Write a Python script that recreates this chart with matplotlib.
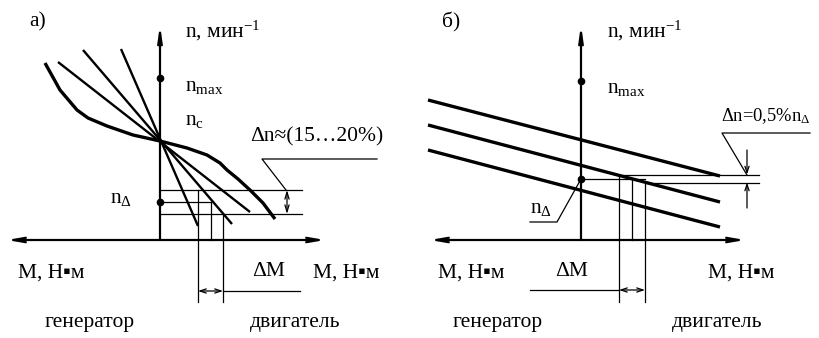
import matplotlib
matplotlib.use("Agg")
import matplotlib.pyplot as plt
import numpy as np

plt.rcParams['font.family'] = ['Liberation Serif', 'DejaVu Sans']
plt.rcParams['mathtext.fontset'] = 'custom'
plt.rcParams['mathtext.rm'] = 'Liberation Serif'
plt.rcParams['mathtext.it'] = 'Liberation Serif:italic'

# =============================================================================
# Data (panel coordinates: M to the right, n upward, origin at axis crossing)
# =============================================================================

# --- panel a) ---
a_lines = [  # straight characteristics: (M0, n0, M1, n1)
    (-39, 191, 38, 14),
    (-77, 190, 72, 16),
    (-102, 178, 90, 28),
]
a_curve_M = [-115, -100, -83, -72, -53, -27, 0, 27, 47, 60, 67, 78, 90, 103, 115]
a_curve_n = [177, 150, 130, 122, 114, 105, 99, 92, 85, 77, 70, 61, 50, 37, 21]
a_n_max   = 162
a_levels  = [50, 38, 26]          # n levels of the horizontal guide lines
a_lvl_end = [142, 51, 142]        # where each guide line ends
a_dM      = [38, 51, 63]          # torque marks
a_dM_low  = [-62, 0, -62]         # how far down each mark runs
a_dn_M    = 127

# --- panel b) ---
b_lines = [
    (-153, 140, 139, 64),
    (-153, 115, 139, 38),
    (-153, 90, 139, 13),
]
b_n_max   = 159
b_n_delta = 61
b_levels  = [65.5, 61, 57.5]
b_lvl_beg = [39, 0, 64]
b_lvl_end = [178, 64, 178]
b_dM      = [38, 51, 64]
b_dM_low  = [-62, 0, -62]
b_dn_M    = 166

THICK = 2.4
THIN = 0.9
AX_LW = 1.6
FS = 15.5

fig = plt.figure(figsize=(8.19, 3.38), dpi=100)
ax_a = fig.add_axes([0, 0, 410 / 819, 1])
ax_b = fig.add_axes([410 / 819, 0, 409 / 819, 1])
ax_a.set_xlim(-160, 250)
ax_b.set_xlim(-171, 238)
for ax in (ax_a, ax_b):
    ax.set_ylim(-98, 240)
    ax.axis('off')


def arrow(ax, p0, p1, style='->', lw=THIN, hl=0.5, hw=0.2):
    ax.annotate('', xy=p1, xytext=p0,
                arrowprops=dict(arrowstyle=f'{style},head_length={hl},head_width={hw}',
                                lw=lw, color='black', shrinkA=0, shrinkB=0))


def axes_cross(ax, left, right):
    arrow(ax, (left, 0), (right, 0), style='<->', lw=AX_LW, hl=0.9, hw=0.16)
    arrow(ax, (0, 0), (0, 215), style='->', lw=AX_LW, hl=0.9, hw=0.13)


# =============================================================================
# Panel a)
# =============================================================================
ax = ax_a
axes_cross(ax, -153, 165)
for m0, n0, m1, n1 in a_lines:
    ax.plot([m0, m1], [n0, n1], color='black', lw=1.7, solid_capstyle='butt')
ax.plot(a_curve_M, a_curve_n, color='black', lw=THICK, solid_capstyle='butt')
ax.plot(0, a_n_max, 'ko', ms=4.5)
ax.plot(0, a_levels[1], 'ko', ms=4.5)
for lv, end in zip(a_levels, a_lvl_end):
    ax.plot([0, end], [lv, lv], color='black', lw=THIN)
for m, top, low in zip(a_dM, a_levels, a_dM_low):
    ax.plot([m, m], [top, low], color='black', lw=THIN)
arrow(ax, (a_dM[0], -51), (a_dM[2], -51), style='<->', hl=0.45, hw=0.15)
ax.plot([a_dM[2], 140], [-51, -51], color='black', lw=THIN)
arrow(ax, (a_dn_M, a_levels[0]), (a_dn_M, a_levels[2]), style='<->', hl=0.5, hw=0.15)
ax.plot([217, 102, 126], [81, 81, 50], color='black', lw=THIN)

ax.text(-131, 218, 'а)', fontsize=FS, va='center')
ax.text(25, 209, r'n, мин$^{\mathrm{-1}}$', fontsize=FS, va='center')
ax.text(25, 153, r'n$_{\mathrm{max}}$', fontsize=FS, va='center')
ax.text(25, 119, r'n$_{\mathrm{c}}$', fontsize=FS, va='center')
ax.text(-50, 41, r'n$_{\Delta}$', fontsize=FS, va='center')
ax.text(90, 103, 'Δn≈(15…20%)', fontsize=FS, va='center')
ax.text(-142, -33, 'M, Н▪м', fontsize=FS, va='center')
ax.text(92, -32, 'ΔM', fontsize=FS, va='center')
ax.text(153, -33, 'M, Н▪м', fontsize=FS, va='center')
ax.text(-115, -83, 'генератор', fontsize=FS, va='center')
ax.text(90, -83, 'двигатель', fontsize=FS, va='center')

# =============================================================================
# Panel b)
# =============================================================================
ax = ax_b
axes_cross(ax, -151, 164)
for m0, n0, m1, n1 in b_lines:
    ax.plot([m0, m1], [n0, n1], color='black', lw=THICK, solid_capstyle='butt')
ax.plot(0, b_n_max, 'ko', ms=4.5)
ax.plot(0, b_n_delta, 'ko', ms=4.5)
for lv, beg, end in zip(b_levels, b_lvl_beg, b_lvl_end):
    ax.plot([beg, end], [lv, lv], color='black', lw=THIN)
for m, top, low in zip(b_dM, b_levels, b_dM_low):
    ax.plot([m, m], [top, low], color='black', lw=THIN)
arrow(ax, (b_dM[0], -50), (b_dM[2], -50), style='<->', hl=0.45, hw=0.15)
ax.plot([-51, b_dM[0]], [-50, -50], color='black', lw=THIN)
arrow(ax, (b_dn_M, 90), (b_dn_M, b_levels[0]), hl=0.45, hw=0.15)
arrow(ax, (b_dn_M, 32), (b_dn_M, b_levels[2]), hl=0.45, hw=0.15)
ax.plot([229, 141, 166], [107, 107, 65], color='black', lw=THIN)
ax.plot([-51, -24, 0], [18, 18, b_n_delta], color='black', lw=THIN)

ax.text(-139, 218, 'б)', fontsize=FS, va='center')
ax.text(26, 209, r'n, мин$^{\mathrm{-1}}$', fontsize=FS, va='center')
ax.text(26, 152, r'n$_{\mathrm{max}}$', fontsize=FS, va='center')
ax.text(-51, 31, r'n$_{\Delta}$', fontsize=FS, va='center')
ax.text(140, 124, r'Δn=0,5%n$_{\Delta}$', fontsize=13.3, va='center')
ax.text(-143, -33, 'M, Н▪м', fontsize=FS, va='center')
ax.text(-26, -32, 'ΔM', fontsize=FS, va='center')
ax.text(127, -33, 'M, Н▪м', fontsize=FS, va='center')
ax.text(-128, -83, 'генератор', fontsize=FS, va='center')
ax.text(91, -83, 'двигатель', fontsize=FS, va='center')

fig.savefig("out.png", dpi=100)
